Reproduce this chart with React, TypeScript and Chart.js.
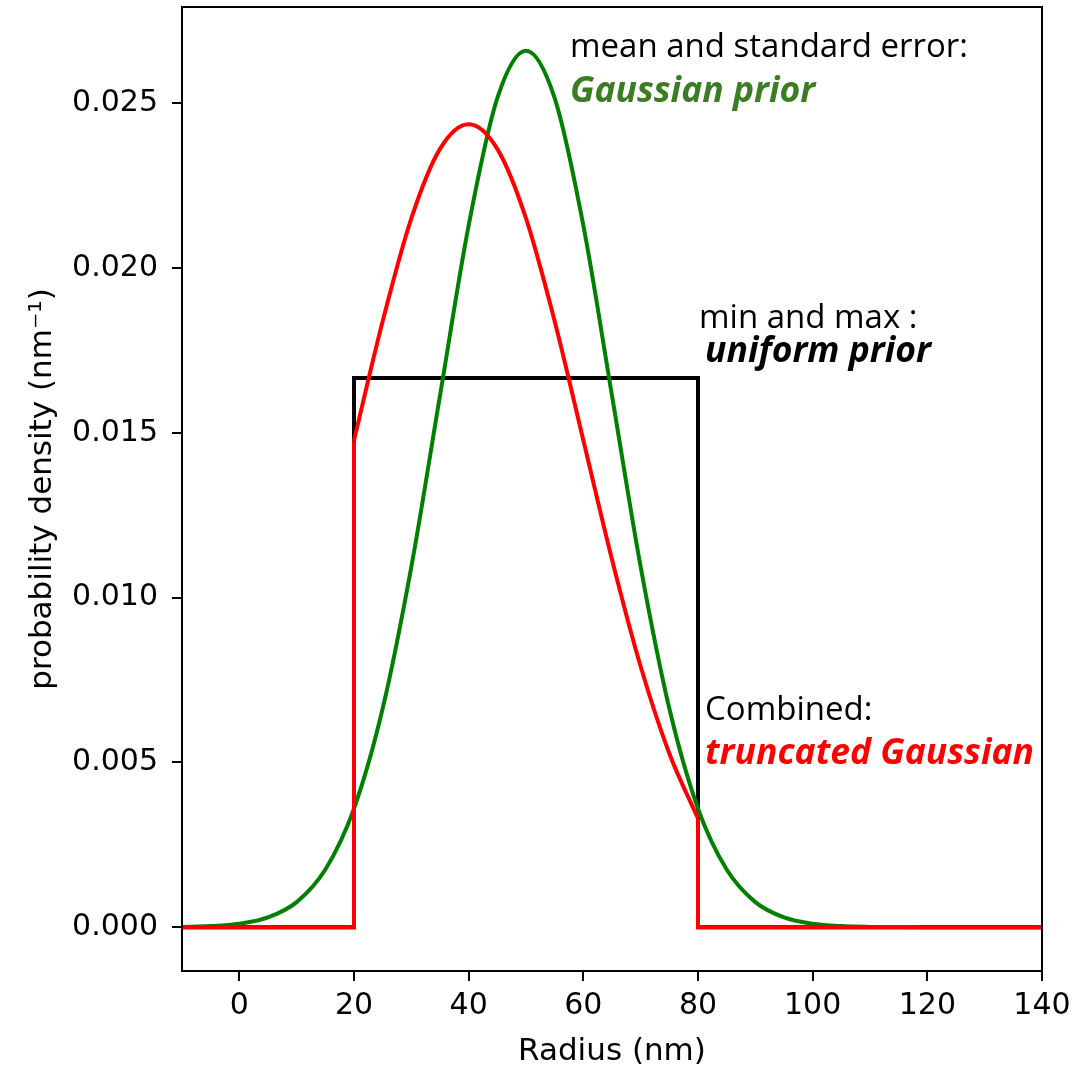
import { useEffect, useRef } from 'react';
import { Chart, registerables } from 'chart.js';

Chart.register(...registerables);

// Gaussian prior (mean and standard error)
const gaussX = [-10, -5, 0, 5, 10, 15, 20, 25, 30, 35, 40, 45, 50, 55, 60, 65, 70, 75, 80, 85, 90, 95, 100, 105, 110, 115, 120, 125, 130, 135, 140];
const gaussY = [0.0000089, 0.000032, 0.000103, 0.000295, 0.00076, 0.001748, 0.003599, 0.006634, 0.010934, 0.016131, 0.021296, 0.025159, 0.026596, 0.025159, 0.021296, 0.016131, 0.010934, 0.006634, 0.003599, 0.001748, 0.00076, 0.000295, 0.000103, 0.000032, 0.0000089, 0.0000021, 0.0000004, 0, 0, 0, 0];

// Uniform prior (min and max)
const uniformX = [-10, 20, 20, 80, 80, 140];
const uniformY = [0, 0, 0.016667, 0.016667, 0, 0];

// Combined: truncated Gaussian
const truncX = [20, 25, 30, 35, 40, 45, 50, 55, 60, 65, 70, 75, 80];
const truncY = [0.01478, 0.01839, 0.02151, 0.02362, 0.02437, 0.02362, 0.02151, 0.01839, 0.01478, 0.01116, 0.00791, 0.00527, 0.0033];
const truncLeftX = [-10, 20, 20];
const truncLeftY = [0, 0, 0.01478];
const truncRightX = [80, 80, 140];
const truncRightY = [0.0033, 0, 0];

const xTicks = [0, 20, 40, 60, 80, 100, 120, 140];
const yTicks = [0, 0.005, 0.01, 0.015, 0.02, 0.025];

const pts = (xs: number[], ys: number[]) => xs.map((x, i) => ({ x, y: ys[i] }));

const TICK_FONT = 'DejaVu Sans';
const NOTE_FONT = 'Open Sans';

export default function App() {
  const ref = useRef<HTMLCanvasElement | null>(null);

  useEffect(() => {
    document.body.style.margin = '0';
    const canvas = ref.current!;
    const framePlugin = {
      id: 'frameAndText',
      afterDraw(chart: any) {
        const { ctx, chartArea } = chart;
        const { left, right, top, bottom } = chartArea;
        ctx.save();
        ctx.strokeStyle = '#000';
        ctx.lineWidth = 2;
        ctx.strokeRect(left, top, right - left, bottom - top);

        ctx.fillStyle = '#000';
        ctx.textAlign = 'center';
        ctx.textBaseline = 'alphabetic';
        ctx.font = `31px "${TICK_FONT}"`;
        ctx.fillText('Radius (nm)', (left + right) / 2, 1060);

        ctx.save();
        ctx.translate(51, (top + bottom) / 2);
        ctx.rotate(-Math.PI / 2);
        ctx.fillText('probability density (nm\u207B\u00B9)', 0, 0);
        ctx.restore();

        ctx.textAlign = 'left';
        ctx.font = `33px "${NOTE_FONT}"`;
        ctx.fillStyle = '#000';
        ctx.fillText('mean and standard error:', 570, 57);
        ctx.fillText('min and max :', 699, 328);
        ctx.fillText('Combined:', 705, 720);

        ctx.font = `italic bold 35.5px "${NOTE_FONT}"`;
        ctx.fillStyle = '#3a7d22';
        ctx.fillText('Gaussian prior', 570, 102);
        ctx.fillStyle = '#000';
        ctx.fillText('uniform prior', 705, 362);
        ctx.fillStyle = '#ff0000';
        ctx.fillText('truncated Gaussian', 705, 764);
        ctx.restore();
      },
    };

    const common = { pointRadius: 0, borderWidth: 4, fill: false };

    const chart = new Chart(canvas, {
      type: 'line',
      data: {
        datasets: [
          { ...common, data: pts(uniformX, uniformY), borderColor: '#000000', tension: 0, order: 3 },
          { ...common, data: pts(gaussX, gaussY), borderColor: '#008000', cubicInterpolationMode: 'monotone', order: 2 },
          { ...common, data: pts(truncLeftX, truncLeftY), borderColor: '#ff0000', tension: 0, order: 1 },
          { ...common, data: pts(truncX, truncY), borderColor: '#ff0000', cubicInterpolationMode: 'monotone', order: 1 },
          { ...common, data: pts(truncRightX, truncRightY), borderColor: '#ff0000', tension: 0, order: 1 },
        ] as any,
      },
      options: {
        animation: false,
        responsive: false,
        maintainAspectRatio: false,
        parsing: false as any,
        layout: { padding: { left: 0, right: 50, top: 7, bottom: 0 } },
        plugins: { legend: { display: false }, tooltip: { enabled: false } },
        scales: {
          x: {
            type: 'linear',
            min: -10,
            max: 140,
            afterBuildTicks: (s: any) => { s.ticks = xTicks.map((v) => ({ value: v })); },
            afterFit: (s: any) => { s.height = 97; s.paddingLeft = 0; s.paddingRight = 0; },
            ticks: {
              color: '#000',
              font: { family: TICK_FONT, size: 30 },
              padding: 7,
              maxRotation: 0,
              callback: (v: any) => String(v),
            },
            grid: { drawOnChartArea: false, drawTicks: true, tickLength: 10, color: '#000', lineWidth: 2 },
            border: { display: true, color: '#000', width: 2 },
          },
          y: {
            type: 'linear',
            min: -0.00133,
            max: 0.027926,
            afterBuildTicks: (s: any) => { s.ticks = yTicks.map((v) => ({ value: v })); },
            afterFit: (s: any) => { s.width = 182; s.paddingTop = 0; s.paddingBottom = 0; },
            ticks: {
              color: '#000',
              font: { family: TICK_FONT, size: 30 },
              padding: 14,
              callback: (v: any) => Number(v).toFixed(3),
            },
            grid: { drawOnChartArea: false, drawTicks: true, tickLength: 10, color: '#000', lineWidth: 2 },
            border: { display: true, color: '#000', width: 2 },
          },
        },
      },
      plugins: [framePlugin],
    });
    return () => chart.destroy();
  }, []);

  return (
    <div style={{ position: 'absolute', left: 0, top: 0, width: 1092, height: 1068, background: '#fff' }}>
      <canvas ref={ref} width={1092} height={1068} />
    </div>
  );
}
